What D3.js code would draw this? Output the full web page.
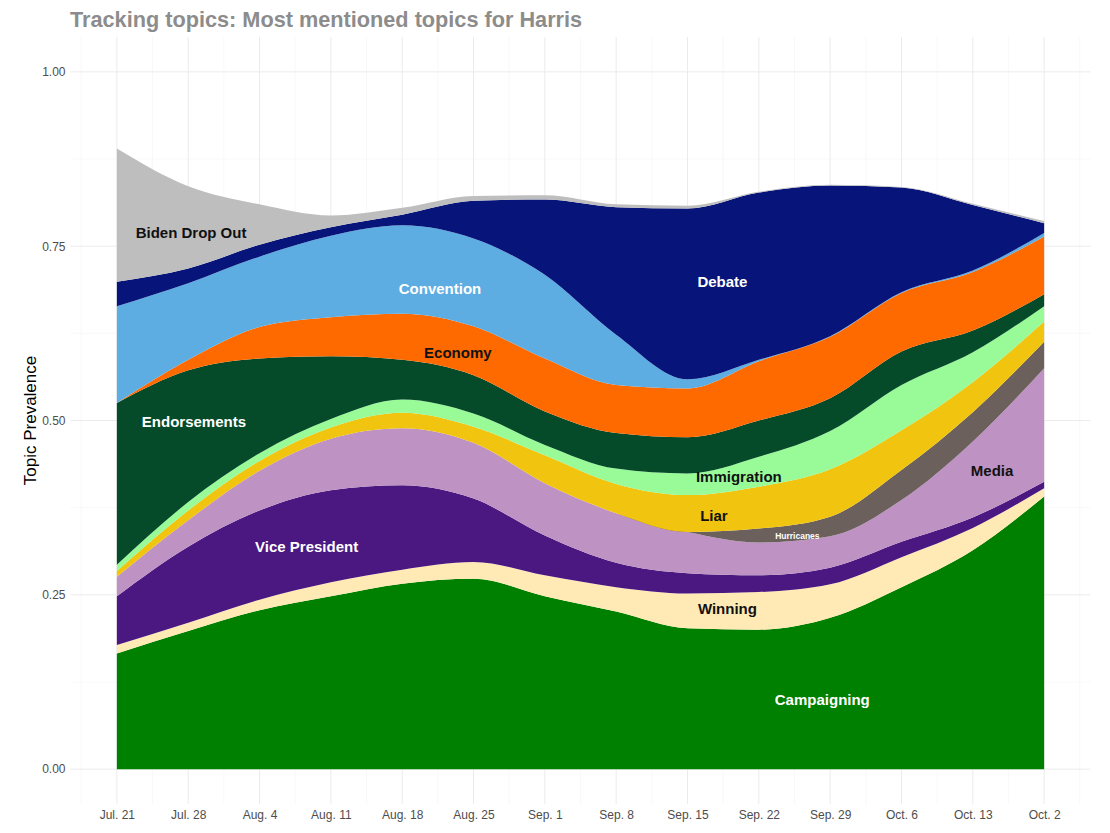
<!DOCTYPE html>
<html>
<head>
<meta charset="utf-8">
<script src="https://cdn.jsdelivr.net/npm/d3@7"></script>
<style>
  html, body { margin: 0; padding: 0; background: #fff; }
  svg { display: block; font-family: "Liberation Sans", Arial, sans-serif; }
  .grid-major { stroke: #ebebeb; stroke-width: 1; }
  .grid-minor { stroke: #f4f4f4; stroke-width: 0.6; }
  .tick-label { fill: #4d4d4d; font-size: 12px; font-family: "Liberation Sans", Arial, sans-serif; }
  .topic-label { font-weight: bold; font-size: 15px; }
</style>
</head>
<body>
<svg id="chart" width="1110" height="833"></svg>
<script>
// weekly tick labels (the last one is printed this way in the original)
const dates = ['Jul. 21', 'Jul. 28', 'Aug. 4', 'Aug. 11', 'Aug. 18', 'Aug. 25', 'Sep. 1',
  'Sep. 8', 'Sep. 15', 'Sep. 22', 'Sep. 29', 'Oct. 6', 'Oct. 13', 'Oct. 2'];

// topics, bottom of the stack first
const topics = ['Campaigning', 'Winning', 'Vice President', 'Media', 'Hurricanes', 'Liar',
  'Immigration', 'Endorsements', 'Economy', 'Convention', 'Debate', 'Biden Drop Out'];

// topic prevalence per week
const campaigning   = [.166, .198, .228, .248, .266, .273, .248, .226, .202, .200, .217, .261, .314, .391];
const winning       = [.012, .012, .015, .020, .020, .024, .030, .035, .050, .054, .048, .043, .032, .012];
const vicePresident = [.070, .109, .128, .132, .121, .091, .057, .035, .029, .024, .024, .022, .015, .009];
const media         = [.028, .038, .057, .074, .082, .080, .075, .071, .059, .047, .045, .060, .109, .163];
const hurricanes    = [0, 0, 0, 0, 0, 0, 0, 0, 0, .020, .028, .043, .042, .038];
const liar          = [.008, .014, .014, .016, .022, .023, .040, .042, .053, .060, .068, .057, .043, .029];
const immigration   = [.009, .012, .011, .012, .019, .019, .015, .022, .031, .043, .055, .065, .043, .022];
const endorsements  = [.232, .189, .136, .090, .057, .055, .048, .051, .052, .052, .047, .048, .031, .017];
const economy       = [0, .015, .045, .056, .066, .070, .076, .069, .070, .085, .088, .084, .084, .083];
const convention    = [.139, .110, .101, .117, .127, .126, .120, .072, .013, .002, .001, .001, .002, .005];
const debate        = [.035, .021, .017, .012, .015, .054, .108, .183, .245, .240, .216, .150, .094, .014];
const bidenDropOut  = [.191, .118, .058, .017, .010, .007, .006, .004, .004, .001, .001, .001, .002, .003];

const yTicks = [0, 0.25, 0.5, 0.75, 1];

// where each topic name sits (week index, prevalence)
const labelSpots = [
  { topic: 'Biden Drop Out', at: 1.04, v: 0.769 },
  { topic: 'Convention', at: 4.53, v: 0.689 },
  { topic: 'Debate', at: 8.49, v: 0.699 },
  { topic: 'Economy', at: 4.78, v: 0.598 },
  { topic: 'Endorsements', at: 1.08, v: 0.499 },
  { topic: 'Immigration', at: 8.72, v: 0.419 },
  { topic: 'Media', at: 12.27, v: 0.429 },
  { topic: 'Liar', at: 8.37, v: 0.364 },
  { topic: 'Hurricanes', at: 9.54, v: 0.334 },
  { topic: 'Vice President', at: 2.66, v: 0.320 },
  { topic: 'Winning', at: 8.56, v: 0.230 },
  { topic: 'Campaigning', at: 9.89, v: 0.100 }
];

const COLOR = {
  'Campaigning': '#008000', 'Winning': '#ffeab5', 'Vice President': '#4b1882',
  'Media': '#be92c3', 'Hurricanes': '#6b605b', 'Liar': '#f1c40f', 'Immigration': '#98fb98',
  'Endorsements': '#054a29', 'Economy': '#ff6a00', 'Convention': '#5dade2',
  'Debate': '#071479', 'Biden Drop Out': '#bebebe'
};
const TEXT_COLOR = {
  'Campaigning': '#fff', 'Winning': '#111', 'Vice President': '#fff', 'Media': '#111',
  'Hurricanes': '#fff', 'Liar': '#111', 'Immigration': '#111', 'Endorsements': '#fff',
  'Economy': '#111', 'Convention': '#fff', 'Debate': '#fff', 'Biden Drop Out': '#111'
};

const series = [campaigning, winning, vicePresident, media, hurricanes, liar,
  immigration, endorsements, economy, convention, debate, bidenDropOut];
const table = dates.map((d, i) => {
  const row = { i: i };
  topics.forEach((t, k) => { row[t] = series[k][i]; });
  return row;
});

const svg = d3.select('#chart');
const panel = { left: 70.5, right: 1090.5, top: 37, bottom: 804 };

const x = d3.scaleLinear().domain([-0.65, dates.length - 1 + 0.65]).range([panel.left, panel.right]);
const y = d3.scaleLinear().domain([-0.05, 1.05]).range([panel.bottom, panel.top]);

// grid
const g = svg.append('g');
d3.range(-0.5, dates.length, 1).forEach(v => {
  g.append('line').attr('class', 'grid-minor').attr('x1', x(v)).attr('x2', x(v)).attr('y1', panel.top).attr('y2', panel.bottom);
});
[0.125, 0.375, 0.625, 0.875].forEach(v => {
  g.append('line').attr('class', 'grid-minor').attr('x1', panel.left).attr('x2', panel.right).attr('y1', y(v)).attr('y2', y(v));
});
dates.forEach((d, i) => {
  g.append('line').attr('class', 'grid-major').attr('x1', x(i)).attr('x2', x(i)).attr('y1', panel.top).attr('y2', panel.bottom);
});
yTicks.forEach(v => {
  g.append('line').attr('class', 'grid-major').attr('x1', panel.left).attr('x2', panel.right).attr('y1', y(v)).attr('y2', y(v));
});

// stacked areas
const stack = d3.stack().keys(topics);
const layers = stack(table);
const area = d3.area()
  .curve(d3.curveMonotoneX)
  .x(d => x(d.data.i))
  .y0(d => y(d[0]))
  .y1(d => y(d[1]));

svg.append('g').selectAll('path').data(layers).enter().append('path')
  .attr('d', area)
  .attr('fill', d => COLOR[d.key]);

// axes
const cleanAxis = s => {
  s.attr('font-family', null).attr('font-size', null);
  s.select('.domain').remove();
  s.selectAll('text').attr('class', 'tick-label').attr('fill', null);
};
const xAxis = d3.axisBottom(x).tickValues(d3.range(dates.length)).tickFormat(i => dates[i]).tickSize(0).tickPadding(6);
svg.append('g').attr('transform', `translate(0,${panel.bottom})`).call(xAxis).call(cleanAxis);

const yAxis = d3.axisLeft(y).tickValues(yTicks).tickFormat(d3.format('.2f')).tickSize(0).tickPadding(5);
svg.append('g').attr('transform', `translate(${panel.left},0)`).call(yAxis).call(cleanAxis);

// topic labels
svg.append('g').selectAll('text').data(labelSpots).enter().append('text')
  .attr('class', 'topic-label')
  .attr('x', d => x(d.at))
  .attr('y', d => y(d.v))
  .attr('text-anchor', 'middle')
  .attr('dominant-baseline', 'central')
  .style('font-size', d => d.topic === 'Hurricanes' ? '8.5px' : null)
  .attr('fill', d => TEXT_COLOR[d.topic])
  .text(d => d.topic);

// titles
svg.append('text')
  .attr('transform', `translate(36, ${(panel.top + panel.bottom) / 2}) rotate(-90)`)
  .attr('text-anchor', 'middle')
  .attr('font-size', 17)
  .attr('fill', '#000')
  .text('Topic Prevalence');

svg.append('text')
  .attr('x', 70)
  .attr('y', 27)
  .attr('font-size', 21.7)
  .attr('font-weight', 'bold')
  .attr('fill', '#8c8c8c')
  .text('Tracking topics: Most mentioned topics for Harris');
</script>
</body>
</html>
